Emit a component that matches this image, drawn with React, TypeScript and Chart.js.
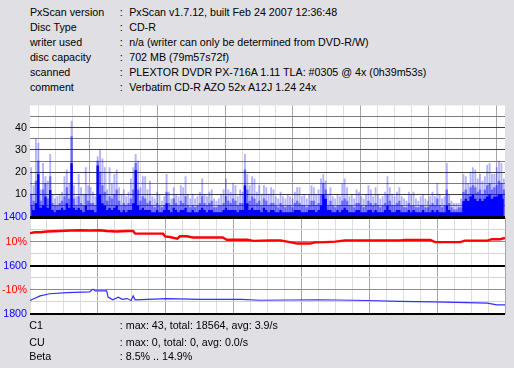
import React, { useEffect, useRef } from 'react';
import { Chart, registerables } from 'chart.js';

Chart.register(...registerables);

const FONT_FAMILY = '"Liberation Sans", Arial, sans-serif';
const FONT_SIZE = 10.7;
const PAGE_BG = '#e0dfe3';

// ---- header / footer text ----
const HEADER_LABELS = ['PxScan version', 'Disc Type', 'writer used', 'disc capacity', 'scanned', 'comment'];
const HEADER_VALUES = [
  'PxScan v1.7.12, built Feb 24 2007 12:36:48',
  'CD-R',
  'n/a (writer can only be determined from DVD-R/W)',
  '702 MB (79m57s72f)',
  'PLEXTOR DVDR PX-716A 1.11 TLA: #0305 @ 4x (0h39m53s)',
  'Verbatim CD-R AZO 52x A12J 1.24 24x',
];
const FOOTER_LABELS = ['C1', 'CU', 'Beta'];
const FOOTER_VALUES = ['max: 43, total: 18564, avg: 3.9/s', 'max: 0, total: 0, avg: 0.0/s', '8.5% .. 14.9%'];

// ---- x axis (disc position, MB) ----
const DISC_MB = 700;
const GRID_MB_STEP = 25;
const MAJOR_MB_STEP = 100;
const COLUMN_MB = 3.5;

// ---- C1 errors per column (peak / dense / solid layers) ----
const C1_PEAK = [
  22, 14, 35, 33, 12, 24, 18, 16, 28, 10, 8, 9, 10, 11, 18, 21, 15, 43, 14, 9,
  19, 13, 10, 22, 14, 13, 11, 9, 27, 30, 26, 22, 12, 22, 15, 19, 21, 13, 10, 12,
  9, 11, 17, 22, 28, 25, 13, 18, 18, 12, 16, 9, 8, 11, 10, 7, 9, 19, 11, 8,
  13, 10, 9, 14, 13, 18, 10, 8, 10, 8, 9, 11, 17, 10, 9, 11, 12, 8, 7, 8,
  10, 12, 17, 12, 11, 15, 14, 9, 12, 11, 28, 19, 14, 18, 17, 11, 14, 10, 14, 13,
  10, 13, 12, 9, 8, 11, 9, 8, 10, 9, 8, 11, 13, 13, 9, 10, 8, 10, 14, 13,
  10, 12, 17, 19, 16, 10, 13, 9, 8, 10, 9, 15, 17, 13, 9, 10, 8, 12, 11, 9,
  8, 10, 14, 12, 9, 13, 10, 8, 9, 11, 18, 13, 10, 9, 11, 13, 9, 8, 7, 11,
  10, 11, 8, 7, 9, 10, 8, 7, 9, 11, 9, 15, 10, 8, 9, 24, 10, 7, 6, 6,
  6, 8, 19, 18, 15, 20, 22, 21, 17, 19, 16, 18, 23, 24, 19, 19, 22, 25, 24, 17,
];
const C1_MID = [
  10, 7, 16, 25, 7, 12, 15, 8, 18, 6, 5, 5, 6, 7, 9, 13, 8, 36, 8, 5,
  9, 6, 5, 10, 7, 6, 6, 5, 25, 20, 14, 11, 7, 9, 8, 10, 12, 7, 5, 6,
  5, 6, 8, 12, 24, 12, 7, 9, 8, 6, 7, 5, 4, 6, 5, 4, 5, 11, 6, 5,
  8, 6, 5, 7, 6, 9, 5, 4, 5, 4, 5, 6, 9, 6, 5, 6, 7, 4, 4, 5,
  5, 6, 9, 7, 6, 8, 7, 5, 6, 6, 21, 12, 7, 9, 8, 6, 7, 5, 8, 7,
  5, 6, 6, 5, 4, 6, 5, 4, 5, 5, 4, 6, 7, 6, 5, 5, 4, 5, 7, 7,
  5, 6, 10, 15, 12, 5, 7, 5, 4, 5, 5, 7, 8, 7, 5, 5, 4, 6, 6, 5,
  4, 5, 7, 6, 5, 6, 5, 4, 5, 6, 10, 7, 5, 5, 6, 7, 5, 4, 4, 6,
  5, 5, 4, 4, 5, 5, 4, 4, 5, 6, 5, 8, 5, 4, 5, 12, 6, 4, 3, 3,
  4, 4, 11, 12, 10, 13, 14, 13, 11, 12, 10, 12, 14, 15, 12, 13, 14, 16, 15, 12,
];
const C1_BASE = [
  5, 3, 6, 19, 4, 5, 9, 4, 12, 3, 2, 3, 3, 4, 3, 6, 4, 24, 4, 3,
  4, 3, 2, 5, 3, 3, 3, 2, 23, 10, 6, 5, 3, 4, 3, 4, 5, 3, 2, 3,
  2, 3, 3, 6, 21, 5, 3, 4, 3, 3, 3, 2, 2, 3, 2, 2, 3, 6, 3, 2,
  4, 3, 2, 3, 3, 4, 2, 2, 3, 2, 2, 3, 4, 3, 2, 3, 3, 2, 2, 2,
  2, 3, 4, 3, 3, 3, 3, 2, 3, 3, 14, 6, 3, 4, 3, 3, 3, 2, 4, 3,
  2, 3, 3, 2, 2, 3, 2, 2, 2, 2, 2, 3, 3, 3, 2, 2, 2, 3, 3, 3,
  2, 3, 5, 10, 8, 3, 3, 2, 2, 3, 2, 3, 4, 3, 2, 2, 2, 3, 3, 2,
  2, 2, 3, 3, 2, 3, 2, 2, 2, 3, 5, 3, 2, 2, 3, 3, 2, 2, 2, 3,
  2, 3, 2, 2, 2, 3, 2, 2, 2, 3, 2, 3, 2, 2, 2, 5, 3, 2, 2, 2,
  2, 2, 7, 8, 7, 9, 10, 8, 7, 8, 7, 8, 9, 10, 8, 9, 9, 10, 10, 8,
];
const C1_MAX = 50;
const C1_GRID = [0, 5, 10, 15, 20, 25, 30, 35, 40, 45];
const C1_LABELED = [10, 20, 30, 40];

// ---- Beta (%) ----
const BETA_MB = [0, 7, 15, 25, 44, 59, 74, 88, 103, 113, 128, 143, 152, 155, 177, 196, 199, 206, 217, 221, 231, 240, 265, 284, 290, 320, 329, 354, 369, 379, 394, 413, 420, 435, 450, 464, 501, 545, 553, 590, 597, 634, 641, 674, 681, 693, 700];
const BETA_PCT = [13.5, 13.9, 13.9, 14.2, 14.4, 14.6, 14.7, 14.6, 14.7, 14.4, 14.2, 14.4, 14.4, 13.3, 13.3, 13.3, 12.2, 11.9, 11.2, 12.2, 12.2, 11.7, 11.7, 11.7, 10.8, 10.8, 10.3, 10.5, 10.5, 10.0, 9.2, 9.2, 9.7, 9.8, 10.0, 10.5, 10.5, 10.5, 10.7, 10.7, 9.8, 9.8, 10.4, 10.4, 11.0, 11.0, 11.5];

// ---- blue trace (1400..1800 scale) ----
const TRACE_MB = [0, 4, 15, 29, 55, 88, 93, 96, 113, 115, 122, 130, 136, 143, 149, 152, 155, 202, 251, 310, 339, 427, 497, 545, 594, 644, 674, 688, 700];
const TRACE_VAL = [1744, 1739, 1725, 1716, 1711, 1708, 1697, 1704, 1704, 1730, 1741, 1730, 1739, 1736, 1744, 1725, 1741, 1736, 1739, 1739, 1743, 1741, 1744, 1748, 1750, 1753, 1755, 1762, 1762];
const TRACE_MIN = 1400;
const TRACE_MAX = 1800;

// ---- lower panel ticks ----
const LOWER_GRID = [20, 15, 10, 5, 0, -5, -10, -15, -20];
const LOWER_TICK_VALUES = [20, 10, 0, -10, -20];
const LOWER_TICK_LABELS = ['1400', '10%', '1600', '-10%', '1800'];
const LOWER_TICK_COLORS = ['#0000ff', '#ff0000', '#0000ff', '#ff0000', '#0000ff'];

const X_GRID = Array.from({ length: DISC_MB / GRID_MB_STEP + 1 }, (_, i) => i * GRID_MB_STEP);
const C1_MB = C1_PEAK.map((_, i) => (i + 0.5) * COLUMN_MB);

const plotBg = {
  id: 'plotBg',
  beforeDraw(chart: any) {
    const { ctx, chartArea: a } = chart;
    ctx.save();
    ctx.fillStyle = '#ffffff';
    ctx.fillRect(a.left, a.top, a.right - a.left, a.bottom - a.top);
    ctx.restore();
  },
};

function makeXAxis() {
  return {
    type: 'linear',
    min: 0,
    max: DISC_MB,
    afterBuildTicks: (s: any) => {
      s.ticks = X_GRID.map((v) => ({ value: v }));
    },
    afterFit: (s: any) => {
      s.height = 0;
    },
    ticks: { display: false, autoSkip: false },
    grid: {
      drawTicks: false,
      lineWidth: 1,
      color: (c: any) =>
        c.tick && c.tick.value > 0 && c.tick.value % MAJOR_MB_STEP === 0 ? '#a6a6a6' : '#dddddd',
    },
    border: { display: false },
  };
}

const tickFont = { family: FONT_FAMILY, size: FONT_SIZE };

export default function App() {
  const topRef = useRef<HTMLCanvasElement>(null);
  const botRef = useRef<HTMLCanvasElement>(null);

  useEffect(() => {
    const layer = (vals: number[]) => vals.map((v, i) => ({ x: C1_MB[i], y: v }));
    const top = new Chart(topRef.current as HTMLCanvasElement, {
      type: 'line',
      data: {
        datasets: [
          {
            type: 'line',
            data: layer(C1_BASE),
            backgroundColor: '#0000ff',
            fill: 'origin',
            stepped: 'middle',
            pointRadius: 0,
            borderWidth: 0,
            borderColor: 'rgba(0,0,0,0)',
            order: 0,
          },
          {
            type: 'bar',
            data: layer(C1_MID),
            backgroundColor: 'rgba(0,0,255,0.42)',
            barThickness: 1.8,
            grouped: false,
            borderWidth: 0,
            order: 1,
          },
          {
            type: 'bar',
            data: layer(C1_PEAK),
            backgroundColor: 'rgba(0,0,255,0.3)',
            barThickness: 1.2,
            grouped: false,
            borderWidth: 0,
            order: 2,
          },
        ],
      } as any,
      options: {
        responsive: false,
        animation: false,
        devicePixelRatio: 1,
        events: [],
        layout: { padding: { left: 0, right: 9, top: 8.25, bottom: 8.5 } },
        plugins: { legend: { display: false }, tooltip: { enabled: false } },
        elements: { point: { radius: 0 } },
        scales: {
          x: { ...makeXAxis(), offset: false },
          y: {
            min: 0,
            max: C1_MAX,
            z: 1,
            afterBuildTicks: (s: any) => {
              s.ticks = C1_GRID.map((v) => ({ value: v }));
            },
            afterFit: (s: any) => {
              s.width = 30;
            },
            ticks: {
              autoSkip: false,
              padding: 3,
              color: '#000000',
              font: tickFont,
              callback: (v: any) => (C1_LABELED.includes(v) ? String(v) : ''),
            },
            grid: {
              drawTicks: false,
              color: (c: any) =>
                c.tick.value === 0 ? '#000000' : c.tick.value % 10 === 0 ? '#404040' : '#7c7c7c',
              lineWidth: (c: any) => (c.tick.value === 0 ? 2 : 1),
            },
            border: { display: false },
          },
        },
      } as any,
      plugins: [plotBg],
    });

    const bot = new Chart(botRef.current as HTMLCanvasElement, {
      type: 'line',
      data: {
        datasets: [
          {
            data: BETA_MB.map((x, i) => ({ x, y: BETA_PCT[i] })),
            yAxisID: 'yp',
            borderColor: '#ff0000',
            borderWidth: 2.4,
            pointRadius: 0,
            fill: false,
          },
          {
            data: TRACE_MB.map((x, i) => ({ x, y: TRACE_VAL[i] })),
            yAxisID: 'yb',
            borderColor: '#3030ff',
            borderWidth: 1.2,
            pointRadius: 0,
            fill: false,
          },
        ],
      } as any,
      options: {
        responsive: false,
        animation: false,
        devicePixelRatio: 1,
        events: [],
        layout: { padding: { left: 0, right: 9, top: 9.5, bottom: 10 } },
        plugins: { legend: { display: false }, tooltip: { enabled: false } },
        elements: { point: { radius: 0 } },
        scales: {
          x: makeXAxis(),
          yp: {
            position: 'left',
            min: -20,
            max: 20,
            afterBuildTicks: (s: any) => {
              s.ticks = LOWER_GRID.map((v) => ({ value: v }));
            },
            afterFit: (s: any) => {
              s.width = 30;
            },
            ticks: {
              autoSkip: false,
              padding: 3,
              font: tickFont,
              color: (c: any) => {
                const k = LOWER_TICK_VALUES.indexOf(c.tick.value);
                return k >= 0 ? LOWER_TICK_COLORS[k] : '#000000';
              },
              callback: (v: any) => {
                const k = LOWER_TICK_VALUES.indexOf(v);
                return k >= 0 ? LOWER_TICK_LABELS[k] : '';
              },
            },
            grid: {
              drawTicks: false,
              color: (c: any) =>
                c.tick.value % 20 === 0 ? '#000000' : c.tick.value % 10 === 0 ? '#8c8c8c' : '#d4d4d4',
              lineWidth: (c: any) => (c.tick.value % 20 === 0 ? 2 : 1),
            },
            border: { display: false },
          },
          yb: {
            display: false,
            position: 'right',
            reverse: true,
            min: TRACE_MIN,
            max: TRACE_MAX,
          },
        },
      } as any,
      plugins: [plotBg],
    });

    return () => {
      top.destroy();
      bot.destroy();
    };
  }, []);

  const txt: React.CSSProperties = {
    position: 'absolute',
    fontFamily: FONT_FAMILY,
    fontSize: FONT_SIZE,
    lineHeight: '13px',
    color: '#000000',
    whiteSpace: 'pre',
    margin: 0,
  };
  const footerTops = [319.4, 335.8, 350.3];

  return (
    <div
      style={{
        position: 'fixed',
        left: 0,
        top: 0,
        width: 514,
        height: 368,
        background: PAGE_BG,
        overflow: 'hidden',
      }}
    >
      {HEADER_LABELS.map((label, i) => (
        <React.Fragment key={label}>
          <div style={{ ...txt, left: 29.9, top: 6.3 + i * 14.9 }}>{label}</div>
          <div style={{ ...txt, left: 119.8, top: 6.3 + i * 14.9 }}>:</div>
          <div style={{ ...txt, left: 129.2, top: 6.3 + i * 14.9 }}>{HEADER_VALUES[i]}</div>
        </React.Fragment>
      ))}
      <canvas
        ref={topRef}
        width={514}
        height={130}
        style={{ position: 'absolute', left: 0, top: 96, width: 514, height: 130 }}
      />
      <canvas
        ref={botRef}
        width={514}
        height={116}
        style={{ position: 'absolute', left: 0, top: 208, width: 514, height: 116 }}
      />
      {FOOTER_LABELS.map((label, i) => (
        <React.Fragment key={label}>
          <div style={{ ...txt, left: 29.3, top: footerTops[i] }}>{label}</div>
          <div style={{ ...txt, left: 119.8, top: footerTops[i] }}>{': ' + FOOTER_VALUES[i]}</div>
        </React.Fragment>
      ))}
    </div>
  );
}
